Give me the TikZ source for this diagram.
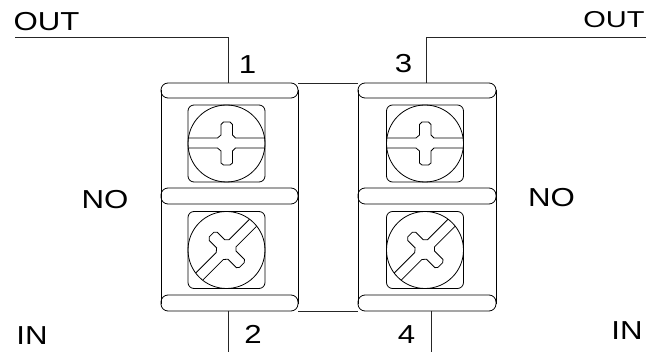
\documentclass[tikz,border=0pt]{standalone}
\usepackage{fontspec}
\setmainfont{Liberation Sans}
\tikzset{
  wire/.style={draw=black!85,line width=0.9pt},
  part/.style={draw=black,line width=0.8pt},
  lab/.style={font=\fontsize{26}{26}\selectfont,inner sep=0pt,anchor=center,xscale=1.2},
  bar/.style={part,rounded corners=7pt},
  pics/screw/.style={code={
    \draw[part,rounded corners=6pt] (-38.5,-38.5) rectangle (38.5,38.5);
    \draw[part] (0,0) circle (38.5);
    \begin{scope}[rotate=#1]
    \draw[part] (-38,-5.5) -- (-9,-5.5) -- (-5.5,-8.5) -- (-5.5,-19) -- (-3,-21.5) -- (3.5,-21.5) -- (6,-19) -- (6,-8.5) -- (9,-5.5) -- (38,-5.5);
    \draw[part] (-38,4.5) -- (-9,4.5) -- (-5.5,7.5) -- (-5.5,19.5) -- (-3,21.5) -- (3.5,21.5) -- (6,19.5) -- (6,7.5) -- (9,4.5) -- (38,4.5);
    \end{scope}
  }}
}
\begin{document}
\begin{tikzpicture}[x=1pt,y=-1pt]
\useasboundingbox (0,0) rectangle (646,352);
% block outlines
\foreach \xa/\xb/\c in {161/298/226.5,358/496/425}{
  \draw[part] (\xa,90) -- (\xa,304);
  \draw[part] (\xb,90) -- (\xb,304);
  \draw[bar] (\xa,83) rectangle (\xb,98);
  \draw[bar] (\xa,188) rectangle (\xb,204);
  \draw[bar] (\xa,295) rectangle (\xb,311);
  \pic at (\c,143.5) {screw=0};
  \pic at (\c,250) {screw=45};
}
\coordinate (tl) at (15,37);
\coordinate (tlc) at (228,37);
\coordinate (tld) at (228,83);
\coordinate (tr) at (646,37);
\coordinate (trc) at (426,37);
\coordinate (trd) at (426,83);
\coordinate (bl) at (228,311);
\coordinate (ble) at (228,352);
\coordinate (br) at (431,311);
\coordinate (bre) at (431,352);
\coordinate (ja) at (298,83);
\coordinate (jb) at (358,83);
\coordinate (jc) at (298,311);
\coordinate (jd) at (358,311);
\draw[wire] (tl) -- (tlc) -- (tld);
\draw[wire] (tr) -- (trc) -- (trd);
\draw[wire] (bl) -- (ble);
\draw[wire] (br) -- (bre);
\draw[wire] (ja) -- (jb);
\draw[wire] (jc) -- (jd);
\node[lab] (o1) at (46.5,21.5) {OUT};
\node[lab,font=\fontsize{23}{23}\selectfont,xscale=1.05] (o2) at (614,19.5) {OUT};
\node[lab] (n1) at (105,199.5) {NO};
\node[lab] (n2) at (551.5,197.5) {NO};
\node[lab] (i1) at (32,336) {IN};
\node[lab] (i2) at (627,331) {IN};
\node[lab] (d1) at (247.5,65) {1};
\node[lab] (d3) at (403.5,64) {3};
\node[lab] (d2) at (253,334) {2};
\node[lab] (d4) at (406.5,335) {4};
\end{tikzpicture}
\end{document}
